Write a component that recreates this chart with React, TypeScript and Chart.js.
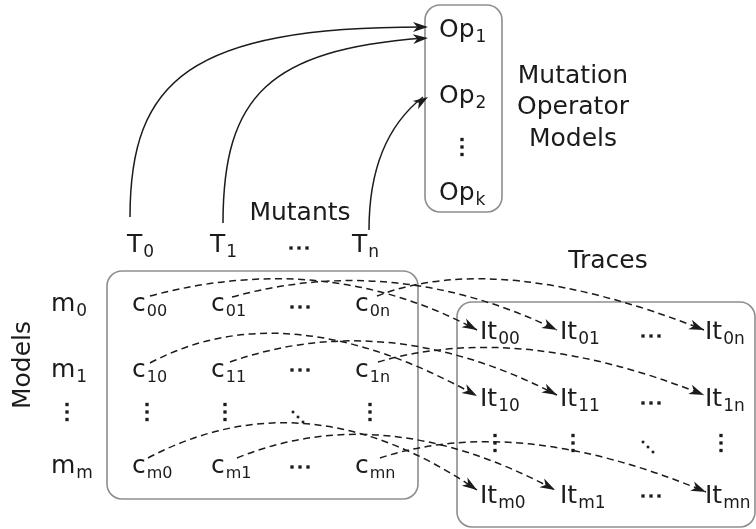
import React, { useEffect, useRef } from "react";
import { Chart, registerables } from "chart.js";

Chart.register(...registerables);

const FONT = '"DejaVu Sans", sans-serif';
const INK = "#1b1b1b";
const BOX = "#8e8e8e";

// ---- Mutation operator models (top right) ----
const opBase = ["Op", "Op", "Op"];
const opSubs = ["1", "2", "k"];
const opX = [439, 439, 439];
const opY = [37, 103, 200];
const opTitle = ["Mutation", "Operator", "Models"];
const opTitleX = 573;
const opTitleY = [83, 114, 146];

// ---- Mutants row ----
const tBase = ["T", "T", "T"];
const tSubs = ["0", "1", "n"];
const tX = [127, 210, 352];
const tY = 252;
const mutantsLabel = "Mutants";
const mutantsPos = [300, 220];

// ---- Models column ----
const mBase = ["m", "m", "m"];
const mSubs = ["0", "1", "m"];
const mX = 51;
const rowY = [311, 377, 473];
const modelsLabel = "Models";
const modelsPos = [23, 365];

// ---- Cells c_ij ----
const cSubs = [
  ["00", "01", "0n"],
  ["10", "11", "1n"],
  ["m0", "m1", "mn"],
];
const cX = [132, 211, 355];

// ---- Traces It_ij ----
const tracesLabel = "Traces";
const tracesPos = [608, 268];
const itSubs = [
  ["00", "01", "0n"],
  ["10", "11", "1n"],
  ["m0", "m1", "mn"],
];
const itX = [480, 560, 705];
const itRowY = [339, 406, 503];

// ---- Frames [x0, y0, x1, y1] ----
const frames = [
  [425, 5, 502, 212],
  [107, 271, 418, 499],
  [457, 302, 755, 527],
];

// ---- Ellipsis dots: [cx, cy] ----
const hDots = [
  [299, 248], [300, 307], [300, 370], [300, 467],
  [651, 336], [651, 403], [651, 496],
];
const vDots = [
  [462, 147], [67, 412], [147, 412], [225, 412], [370, 412],
  [495, 443], [573, 443], [721, 443],
];
const dDots = [[298, 417], [648, 447]];

// ---- Solid arrows (cubic): from, c1, c2, to ----
const solidArrows = [
  [[130, 217], [130, 80], [190, 27], [428, 27]],
  [[223, 223], [223, 95], [270, 50], [428, 38]],
  [[369, 230], [369, 150], [400, 115], [428, 97]],
];

// ---- Dashed arrows (quadratic): from, ctrl, to ----
const dashedArrows = [
  [[150, 296], [326, 249], [477, 330]],
  [[232, 297], [395, 252], [557, 330]],
  [[377, 296], [499, 249], [704, 330]],
  [[150, 363], [287, 290], [477, 396]],
  [[230, 362], [387, 307], [557, 395]],
  [[378, 362], [519, 321], [704, 395]],
  [[148, 458], [307, 374], [477, 490]],
  [[237, 458], [384, 398], [555, 490]],
  [[380, 458], [517, 413], [706, 492]],
];

const diagramPlugin = {
  id: "diagram",
  afterDatasetsDraw(chart: any) {
    const { ctx } = chart;
    const xs = chart.scales.x;
    const ys = chart.scales.y;
    const X = (v: number) => xs.getPixelForValue(v);
    const Y = (v: number) => ys.getPixelForValue(v);
    ctx.save();

    // frames
    ctx.strokeStyle = BOX;
    ctx.lineWidth = 1.6;
    frames.forEach(([x0, y0, x1, y1]) => {
      ctx.beginPath();
      (ctx as any).roundRect(X(x0), Y(y0), X(x1) - X(x0), Y(y1) - Y(y0), 15);
      ctx.stroke();
    });

    const label = (base: string, sub: string, xv: number, yv: number, size = 25, subSize = 17, subDy = 5) => {
      ctx.fillStyle = INK;
      ctx.textAlign = "left";
      ctx.textBaseline = "alphabetic";
      ctx.font = `${size}px ${FONT}`;
      ctx.fillText(base, X(xv), Y(yv));
      const w = ctx.measureText(base).width;
      if (sub) {
        ctx.font = `${subSize}px ${FONT}`;
        ctx.fillText(sub, X(xv) + w + 1, Y(yv) + subDy);
      }
    };
    const center = (t: string, xv: number, yv: number, size = 25) => {
      ctx.fillStyle = INK;
      ctx.font = `${size}px ${FONT}`;
      ctx.textAlign = "center";
      ctx.textBaseline = "alphabetic";
      ctx.fillText(t, X(xv), Y(yv));
    };

    opBase.forEach((b, i) => label(b, opSubs[i], opX[i], opY[i]));
    opTitle.forEach((t, i) => center(t, opTitleX, opTitleY[i]));
    tBase.forEach((b, i) => label(b, tSubs[i], tX[i], tY));
    center(mutantsLabel, mutantsPos[0], mutantsPos[1]);
    mBase.forEach((b, i) => label(b, mSubs[i], mX, rowY[i]));
    cSubs.forEach((row, r) => row.forEach((s, c) => label("c", s, cX[c], rowY[r], 25, 16, 5)));
    center(tracesLabel, tracesPos[0], tracesPos[1]);
    itSubs.forEach((row, r) => row.forEach((s, c) => label("It", s, itX[c], itRowY[r], 25, 17, 5)));

    // rotated Models
    ctx.save();
    ctx.translate(X(modelsPos[0]), Y(modelsPos[1]));
    ctx.rotate(-Math.PI / 2);
    ctx.font = `25px ${FONT}`;
    ctx.fillStyle = INK;
    ctx.textAlign = "center";
    ctx.textBaseline = "middle";
    ctx.fillText(modelsLabel, 0, 0);
    ctx.restore();

    // dots
    ctx.fillStyle = INK;
    const sq = (px: number, py: number, s: number) => ctx.fillRect(px - s / 2, py - s / 2, s, s);
    hDots.forEach(([cx, cy]) => [-8, 0, 8].forEach((d) => sq(X(cx) + d, Y(cy), 3.3)));
    vDots.forEach(([cx, cy]) => [-7.5, 0, 7.5].forEach((d) => sq(X(cx), Y(cy) + d, 3.3)));
    dDots.forEach(([cx, cy]) => [-5, 0, 5].forEach((d) => sq(X(cx) + d, Y(cy) + d, 2.6)));

    const head = (tx: number, ty: number, fx: number, fy: number, len: number, half: number) => {
      const a = Math.atan2(ty - fy, tx - fx);
      const c = Math.cos(a), s = Math.sin(a);
      const bx = tx - len * c, by = ty - len * s;
      const nx = tx - len * 0.72 * c, ny = ty - len * 0.72 * s;
      ctx.setLineDash([]);
      ctx.beginPath();
      ctx.moveTo(tx, ty);
      ctx.lineTo(bx - half * s, by + half * c);
      ctx.lineTo(nx, ny);
      ctx.lineTo(bx + half * s, by - half * c);
      ctx.closePath();
      ctx.fill();
    };

    ctx.strokeStyle = INK;
    ctx.lineWidth = 1.5;
    solidArrows.forEach(([p0, c1, c2, p3]) => {
      ctx.setLineDash([]);
      ctx.beginPath();
      ctx.moveTo(X(p0[0]), Y(p0[1]));
      ctx.bezierCurveTo(X(c1[0]), Y(c1[1]), X(c2[0]), Y(c2[1]), X(p3[0]) - 5, Y(p3[1]));
      ctx.stroke();
      head(X(p3[0]), Y(p3[1]), X(c2[0]), Y(c2[1]), 15, 5);
    });

    dashedArrows.forEach(([p0, c1, p2]) => {
      ctx.setLineDash([7, 4.5]);
      ctx.beginPath();
      ctx.moveTo(X(p0[0]), Y(p0[1]));
      ctx.quadraticCurveTo(X(c1[0]), Y(c1[1]), X(p2[0]), Y(p2[1]));
      ctx.stroke();
      head(X(p2[0]), Y(p2[1]), X(c1[0]), Y(c1[1]), 15, 5);
    });

    ctx.restore();
  },
};

export default function App() {
  const ref = useRef<HTMLCanvasElement>(null);
  useEffect(() => {
    if (!ref.current) return;
    const anchors = [
      ...opY.map((y, i) => ({ x: opX[i], y })),
      ...tX.map((x) => ({ x, y: tY })),
    ];
    const chart = new Chart(ref.current, {
      type: "scatter",
      data: {
        datasets: [
          { data: anchors, pointRadius: 0, pointHoverRadius: 0, showLine: false },
        ],
      },
      options: {
        animation: false,
        responsive: false,
        maintainAspectRatio: false,
        events: [],
        layout: { padding: 0 },
        plugins: { legend: { display: false }, tooltip: { enabled: false } },
        scales: {
          x: { type: "linear", display: false, min: 0, max: 756 },
          y: { type: "linear", display: false, min: 0, max: 529, reverse: true },
        },
      },
      plugins: [diagramPlugin],
    });
    return () => chart.destroy();
  }, []);
  return (
    <div style={{ position: "fixed", left: 0, top: 0, width: 756, height: 529, background: "#fff" }}>
      <canvas ref={ref} width={756} height={529} style={{ width: 756, height: 529, display: "block" }} />
    </div>
  );
}
